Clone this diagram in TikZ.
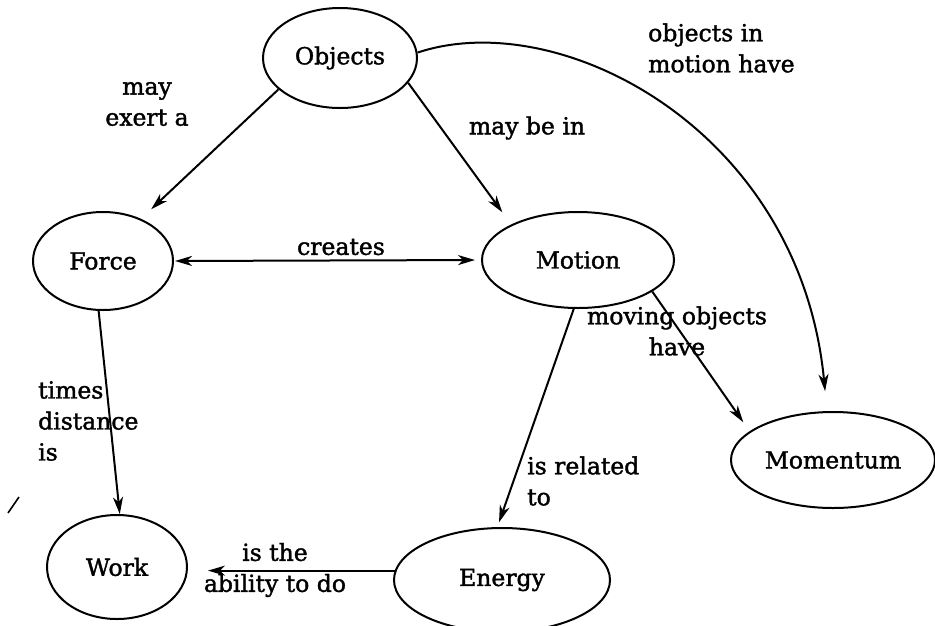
\documentclass[tikz,border=0pt]{standalone}
\usepackage{fontspec}
\setmainfont{DejaVu Serif}[UprightFeatures={FakeBold=1.6}]
\usetikzlibrary{shapes.geometric,arrows.meta}
\begin{document}
\begin{tikzpicture}[x=1pt,y=-1pt,
  txt/.style={font=\fontsize{23.5}{31}\selectfont},
  concept/.style={ellipse,draw,line width=2pt,inner sep=0pt,txt},
  link/.style={line width=2pt,-{Stealth[length=17pt,width=10pt,inset=5pt]}},
  biglink/.style={line width=2pt,{Stealth[length=17pt,width=10pt,inset=5pt]}-{Stealth[length=17pt,width=10pt,inset=5pt]}},
  lbl/.style={inner sep=0pt,txt}]
\useasboundingbox (0,0) rectangle (935,625);

% concepts
\node[concept,minimum width=154pt,minimum height=100pt] (objects) at (340,58) {Objects};
\node[concept,minimum width=140pt,minimum height=98pt] (force) at (103,261) {Force};
\node[concept,minimum width=192pt,minimum height=96pt] (motion) at (578,260) {Motion};
\node[concept,minimum width=204pt,minimum height=96pt] (momentum) at (833,460) {Momentum};
\node[concept,minimum width=140pt,minimum height=104pt] (work) at (117,567) {Work};
\node[concept,minimum width=216pt,minimum height=104pt] (energy) at (502,580) {Energy};

% links between concepts
\draw[link,shorten >=14pt] (objects.207) -- (force.48);
\draw[link,shorten >=15pt] (objects.340) -- (motion.152);
\draw[link,shorten >=20pt] (objects.4) .. controls (560,5) and (800,130) .. (momentum.97);
\draw[biglink,shorten <=1pt,shorten >=6pt] (force.east) -- (motion.west);
\draw[link] (force.265) -- (work.87);
\draw[link,shorten >=5pt] (motion.265) -- (energy.95);
\draw[link,shorten >=11pt] (motion.337) -- (momentum.161);
\draw[link,shorten >=20pt] (energy.175) -- (energy.175 -| work.east);

% link phrases
\node[lbl,align=center] (l1) at (147,104) {may\\exert a};
\node[lbl] (l2) at (527,128) {may be in};
\node[lbl,align=left,anchor=west] (l3) at (648,48) {objects in\\motion have};
\node[lbl] (l4) at (341,247) {creates};
\node[lbl,align=center] (l5) at (677,331) {moving objects\\have};
\node[lbl,align=left,anchor=west] (l6) at (38,421) {times\\distance\\is};
\node[lbl,align=left,anchor=west] (l7) at (527,481) {is related\\to};
\node[lbl,align=center] (l8) at (275,570) {is the\\ability to do};

% small pen stroke at the left margin
\draw[line width=1.6pt] (8,513) -- (19,497);
\end{tikzpicture}
\end{document}
